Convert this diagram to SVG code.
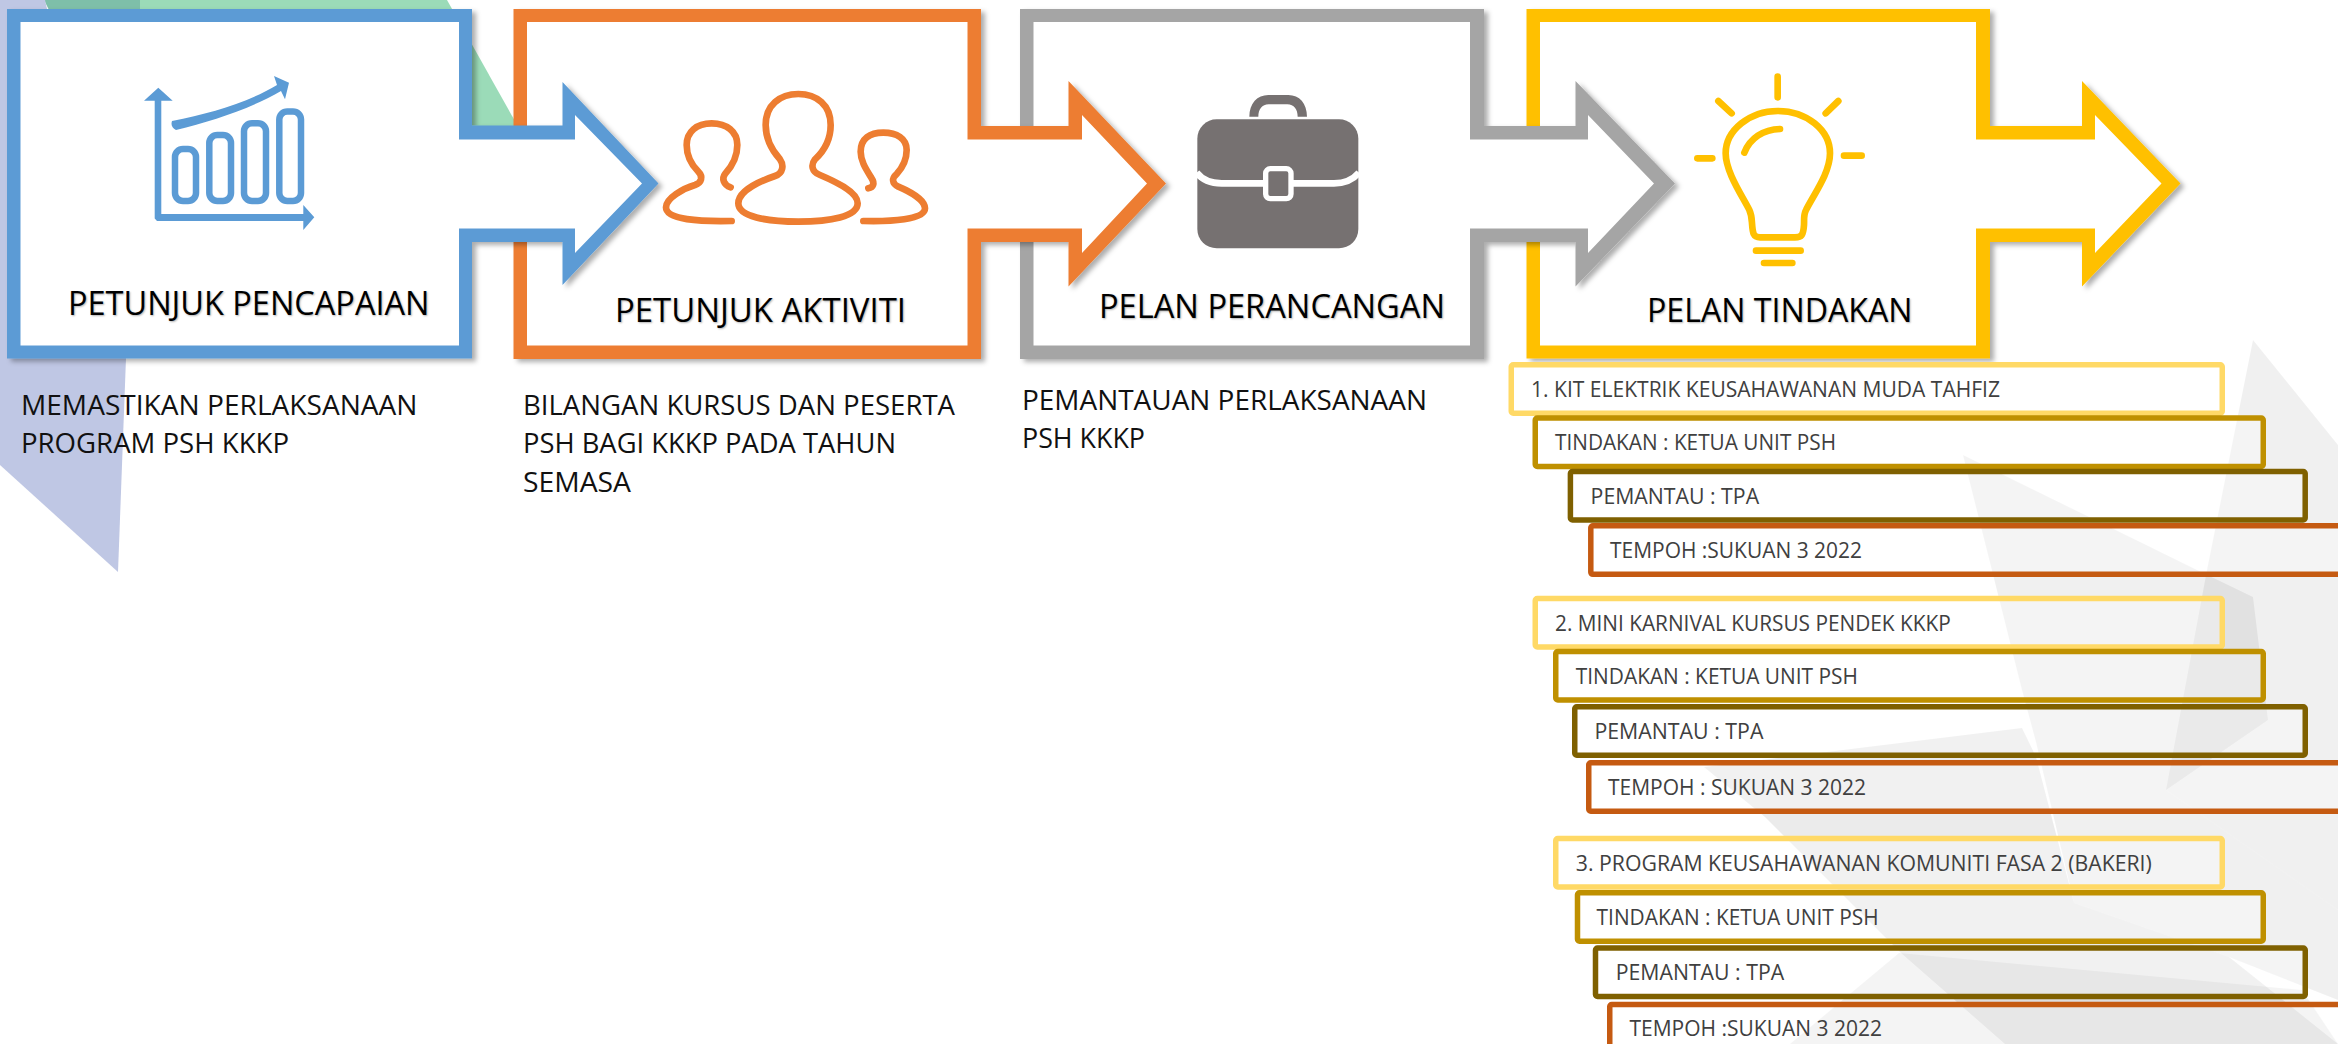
<svg xmlns="http://www.w3.org/2000/svg" width="2338" height="1044" viewBox="0 0 2338 1044">
<style>
text{font-family:"Open Sans","Liberation Sans",sans-serif}
.title{font-size:33.5px;fill:#000;text-shadow:1px 1px 2px rgba(0,0,0,.3)}
.desc{font-size:27.5px;fill:#111}
.row{font-size:21px;fill:#404040}
.r{fill:#fff;fill-opacity:.3;stroke-width:5.5}
.y{stroke:#FFD966}.g{stroke:#BF9000}.b{stroke:#7F6000}.o{stroke:#C55A11}
.inner{fill:#fff}
.line{fill:none;stroke-linecap:round;stroke-linejoin:round}
.bg{fill:#000}
</style>
<defs>
<filter id="sh" x="-5%" y="-5%" width="112%" height="112%"><feDropShadow dx="4" dy="3" stdDeviation="2.5" flood-color="#000" flood-opacity=".32"/></filter>
</defs>
<rect width="2338" height="1044" fill="#fff"/>
<g id="background">
<polygon points="44,0 447,0 520,130 200,200" fill="#9bdbb8"/>
<polygon points="44,0 140,0 140,12 50,12" fill="#7ebfa9"/>
<polygon points="0,0 45,0 126,358 118,572 0,465" fill="#bfc7e4"/>
<polygon class="bg" fill-opacity=".06" points="2253,340 2338,445 2338,910 2166,790 2207,570"/>
<polygon class="bg" fill-opacity=".06" points="1963,455 2197,570 2253,597 2268,720 2166,790 2338,910 2338,1000 2229,957 2074,903 2036,742 2022,690"/>
<polygon class="bg" fill-opacity=".08" points="1704,767 2022,728 2036,757 2074,903 2229,957 2338,1044 2005,1044 1901,953 1765,817"/>
<polygon class="bg" fill-opacity=".06" points="1899,953 1790,1044 2338,1044 2302,990"/>
</g>
<g id="node-pelan-tindakan">
<polygon fill="#FFC000" filter="url(#sh)" points="1526.5,9 1990,9 1990,126 2082,126 2082,81 2180.5,183.5 2082,286.5 2082,242 1990,242 1990,358.5 1526.5,358.5"/>
<polygon class="inner" points="1540,22 1976,22 1976,139.5 2095,139.5 2095,115 2161.5,183.5 2095,253 2095,228.5 1976,228.5 1976,345.5 1540,345.5"/>
<g transform="translate(1670,60) scale(.33333)" class="line" stroke="#FFC000" stroke-width="20">
<path d="M323,50V112M145,123L185,160M505,123L467,160M82,295H127M522,287H575"/>
<path d="M270,532C250,532 248,520 246,490C245,470 245,465 238,450C215,405 167,335 167,280C167,210 240,153 323,153C410,153 480,210 480,280C480,340 430,405 408,450C400,465 403,480 402,495C400,525 395,532 375,532Z"/>
<path d="M223,278C240,235 280,208 330,207M258,572H392M282,609H367"/>
</g>
<text class="title" x="1647" y="322" textLength="265.5" lengthAdjust="spacingAndGlyphs">PELAN TINDAKAN</text>
</g>
<g id="node-pelan-perancangan">
<polygon fill="#A5A5A5" filter="url(#sh)" points="1020,9 1484,9 1484,126 1575.5,126 1575.5,81 1675,183.5 1575.5,286.5 1575.5,242 1484,242 1484,359 1020,359"/>
<polygon class="inner" points="1033.5,22 1470,22 1470,139.5 1588,139.5 1588,115 1654,183.5 1588,253 1588,228.5 1470,228.5 1470,345.5 1033.5,345.5"/>
<g transform="translate(1170,70) scale(.33333)">
<path fill="#767171" fill-rule="evenodd" d="M238,140C238,100 262,75 295,75H355C388,75 411,100 411,140H383C383,118 372,103 352,103H296C276,103 265,118 265,140Z"/>
<rect x="82" y="148" width="483" height="387" rx="58" fill="#767171"/>
<path d="M80,308Q105,340 155,340H492Q540,340 567,308" fill="none" stroke="#fff" stroke-width="20"/>
<rect x="287" y="296" width="76" height="90" rx="14" fill="#767171" stroke="#fff" stroke-width="16"/>
</g>
<text class="title" x="1099" y="318" textLength="346" lengthAdjust="spacingAndGlyphs">PELAN PERANCANGAN</text>
</g>
<g id="node-petunjuk-aktiviti">
<polygon fill="#ED7D31" filter="url(#sh)" points="513.5,9 981,9 981,126 1068.5,126 1068.5,81 1166,183.5 1068.5,286.5 1068.5,242 981,242 981,359 513.5,359"/>
<polygon class="inner" points="527,22 967.5,22 967.5,139.5 1082,139.5 1082,115 1147,183.5 1082,253 1082,228.5 967.5,228.5 967.5,345.5 527,345.5"/>
<g transform="translate(640,70) scale(.33333)" class="line" stroke="#ED7D31" stroke-width="20">
<path d="M475,455C380,455 295,440 295,400C295,360 370,330 405,318C430,310 432,285 420,268C395,240 377,210 377,165C377,105 420,72 475,72C530,72 572,105 572,165C572,210 550,245 525,268C512,285 515,305 540,315C580,332 653,365 653,400C653,440 570,455 475,455Z"/>
<path d="M275,453C180,455 78,450 78,412C78,385 130,355 165,345C185,338 190,320 175,305C150,280 140,255 140,225C140,185 170,160 215,160C260,160 292,185 292,225C292,255 280,285 255,312C245,325 250,345 272,352"/>
<path d="M670,453C750,455 855,450 855,415C855,390 810,365 775,350C755,340 755,325 770,312C790,290 800,265 800,240C800,205 770,188 730,188C690,188 662,205 662,245C662,275 680,300 695,325C705,340 700,352 685,355"/>
</g>
<text class="title" x="615" y="322" textLength="291" lengthAdjust="spacingAndGlyphs">PETUNJUK AKTIVITI</text>
</g>
<g id="node-petunjuk-pencapaian">
<polygon fill="#5B9BD5" filter="url(#sh)" points="7,9 472,9 472,125.5 562.5,125.5 562.5,82 658.5,183.5 562.5,285 562.5,242 472,242 472,358.5 7,358.5"/>
<polygon class="inner" points="20.5,22 459,22 459,139.5 575,139.5 575,115 642,183.5 575,253 575,228.5 459,228.5 459,345.5 20.5,345.5"/>
<g fill="#5B9BD5">
<polygon points="158.3,87.7 172.7,100.7 161.3,100.7 161.3,214 303.3,214 303.3,205 314.3,217.3 303.3,230 303.3,221 157,221 154.7,218.5 154.7,100.7 144,100.7"/>
<path d="M172,121C210,113 245,104 277,85L274,76L289,82.7L285,99.3L281,91C248,110 212,121 176,130Q170,127 172,121Z"/>
</g>
<g fill="none" stroke="#5B9BD5" stroke-width="6.5">
<rect x="175" y="149" width="21" height="52" rx="8"/>
<rect x="209.3" y="135" width="21.7" height="66" rx="8"/>
<rect x="244" y="123.3" width="22" height="77.7" rx="8"/>
<rect x="279.3" y="111.5" width="21.7" height="89.5" rx="8"/>
</g>
<text class="title" x="68" y="314.5" textLength="361.5" lengthAdjust="spacingAndGlyphs">PETUNJUK PENCAPAIAN</text>
</g>
<g id="desc-1">
<text class="desc" x="21" y="415" textLength="396.5" lengthAdjust="spacingAndGlyphs">MEMASTIKAN PERLAKSANAAN</text>
<text class="desc" x="21" y="453" textLength="268" lengthAdjust="spacingAndGlyphs">PROGRAM PSH KKKP</text>
</g>
<g id="desc-2">
<text class="desc" x="523" y="415" textLength="432" lengthAdjust="spacingAndGlyphs">BILANGAN KURSUS DAN PESERTA</text>
<text class="desc" x="523" y="453" textLength="373" lengthAdjust="spacingAndGlyphs">PSH BAGI KKKP PADA TAHUN</text>
<text class="desc" x="523" y="492" textLength="108" lengthAdjust="spacingAndGlyphs">SEMASA</text>
</g>
<g id="desc-3">
<text class="desc" x="1022" y="410" textLength="405" lengthAdjust="spacingAndGlyphs">PEMANTAUAN PERLAKSANAAN</text>
<text class="desc" x="1022" y="448" textLength="123" lengthAdjust="spacingAndGlyphs">PSH KKKP</text>
</g>
<g id="item-1">
<rect class="r y" x="1511.25" y="364.75" width="711" height="48.5" rx="2"/>
<text class="row" x="1531" y="396.7" textLength="469" lengthAdjust="spacingAndGlyphs">1. KIT ELEKTRIK KEUSAHAWANAN MUDA TAHFIZ</text>
<rect class="r g" x="1535.25" y="418" width="728" height="48.5" rx="2"/>
<text class="row" x="1555" y="450" textLength="281" lengthAdjust="spacingAndGlyphs">TINDAKAN : KETUA UNIT PSH</text>
<rect class="r b" x="1570.4" y="471.5" width="734.8" height="48.5" rx="2"/>
<text class="row" x="1590.6" y="504" textLength="168.5" lengthAdjust="spacingAndGlyphs">PEMANTAU : TPA</text>
<rect class="r o" x="1590.8" y="525.8" width="760" height="48.5" rx="2"/>
<text class="row" x="1610" y="558" textLength="252" lengthAdjust="spacingAndGlyphs">TEMPOH :SUKUAN 3 2022</text>
</g>
<g id="item-2">
<rect class="r y" x="1535.25" y="598.5" width="687" height="48.5" rx="2"/>
<text class="row" x="1555" y="630.7" textLength="395.7" lengthAdjust="spacingAndGlyphs">2. MINI KARNIVAL KURSUS PENDEK KKKP</text>
<rect class="r g" x="1555.75" y="651.5" width="707.5" height="48.5" rx="2"/>
<text class="row" x="1575.8" y="684" textLength="282" lengthAdjust="spacingAndGlyphs">TINDAKAN : KETUA UNIT PSH</text>
<rect class="r b" x="1574.75" y="706.75" width="730.5" height="48.5" rx="2"/>
<text class="row" x="1594.4" y="739" textLength="169" lengthAdjust="spacingAndGlyphs">PEMANTAU : TPA</text>
<rect class="r o" x="1588.75" y="762.75" width="760" height="48.5" rx="2"/>
<text class="row" x="1608" y="795" textLength="258" lengthAdjust="spacingAndGlyphs">TEMPOH : SUKUAN 3 2022</text>
</g>
<g id="item-3">
<rect class="r y" x="1555.75" y="838.5" width="666.5" height="48.5" rx="2"/>
<text class="row" x="1575.8" y="871" textLength="576" lengthAdjust="spacingAndGlyphs">3. PROGRAM KEUSAHAWANAN KOMUNITI FASA 2 (BAKERI)</text>
<rect class="r g" x="1577.5" y="892.75" width="685.75" height="48.5" rx="2"/>
<text class="row" x="1596.6" y="925" textLength="282" lengthAdjust="spacingAndGlyphs">TINDAKAN : KETUA UNIT PSH</text>
<rect class="r b" x="1595.5" y="948" width="709.75" height="48.5" rx="2"/>
<text class="row" x="1615.7" y="980" textLength="168.5" lengthAdjust="spacingAndGlyphs">PEMANTAU : TPA</text>
<rect class="r o" x="1609.75" y="1004.5" width="760" height="48.5" rx="2"/>
<text class="row" x="1629.4" y="1035.7" textLength="252.6" lengthAdjust="spacingAndGlyphs">TEMPOH :SUKUAN 3 2022</text>
</g>
</svg>
